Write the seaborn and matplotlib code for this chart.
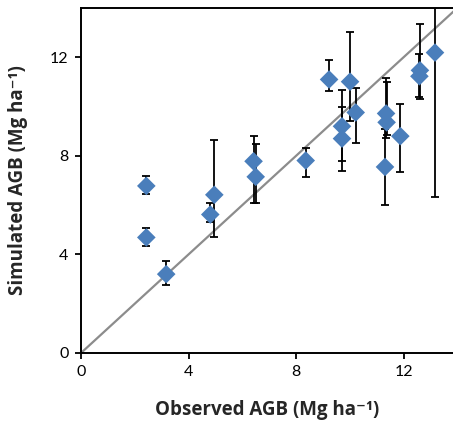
import numpy as np
import pandas as pd
import matplotlib
matplotlib.use("Agg")
import matplotlib.pyplot as plt
import seaborn as sns

# Observed vs simulated aboveground biomass (Mg ha-1), with simulated ranges
observed = [2.43, 2.43, 3.17, 4.81, 4.96, 6.42, 6.50, 8.36, 9.23, 10.01,
            10.22, 9.71, 9.71, 11.35, 11.37, 11.31, 11.88, 12.61, 12.59, 13.17]
simulated = [6.78, 4.69, 3.20, 5.62, 6.42, 7.78, 7.15, 7.81, 11.10, 11.01,
             9.76, 9.20, 8.70, 9.72, 9.36, 7.55, 8.80, 11.47, 11.23, 12.19]
sim_low = [6.46, 4.35, 2.77, 5.30, 4.71, 6.10, 6.10, 7.15, 10.62, 9.40,
           8.52, 7.80, 7.40, 8.73, 8.86, 6.00, 7.33, 10.32, 10.38, 6.34]
sim_high = [7.17, 5.07, 3.73, 6.07, 8.63, 8.82, 8.50, 8.32, 11.89, 13.01,
            10.75, 10.69, 10.00, 11.17, 11.00, 9.10, 10.09, 13.36, 12.15, 18.04]
ticks = [0, 4, 8, 12]

df = pd.DataFrame({"observed": observed, "simulated": simulated,
                   "low": sim_low, "high": sim_high})

sns.set_style("white")
plt.rcParams["font.family"] = ["Lato", "DejaVu Sans"]

fig = plt.figure(figsize=(4.53, 4.22), dpi=100)
ax = fig.add_axes([81 / 453, 69 / 422, 1 - 81 / 453, 345 / 422])

# 1:1 reference line
line = pd.DataFrame({"x": [0, 14], "y": [0, 14]})
sns.lineplot(data=line, x="x", y="y", ax=ax, color="#8c8c8c", lw=1.6, zorder=1)

# simulated ranges
ax.errorbar(df["observed"], df["simulated"],
            yerr=[df["simulated"] - df["low"], df["high"] - df["simulated"]],
            fmt="none", ecolor="black", elinewidth=1.3, capsize=3.2,
            capthick=1.3, zorder=2)

sns.scatterplot(data=df, x="observed", y="simulated", ax=ax, marker="D",
                s=90, color="#4a7ebb", edgecolor="none", zorder=3)

ax.set_xlim(0, 13.84)
ax.set_ylim(0, 14)
ax.set_xticks(ticks)
ax.set_yticks(ticks)
ax.tick_params(direction="out", length=4, width=1.3, labelsize=11.5,
               colors="black", pad=5, bottom=True, left=True)
for side in ["left", "bottom", "top"]:
    ax.spines[side].set_color("black")
    ax.spines[side].set_linewidth(1.4)
ax.spines["right"].set_visible(False)

label_font = dict(family=["Open Sans", "DejaVu Sans"], size=13.5, weight="bold")
ax.set_xlabel("Observed AGB (Mg ha\u207b\u00b9)", fontdict=label_font,
              labelpad=15)
ax.set_ylabel("Simulated AGB (Mg ha\u207b\u00b9)", fontdict=label_font,
              labelpad=16)

fig.savefig("out.png", dpi=100)
